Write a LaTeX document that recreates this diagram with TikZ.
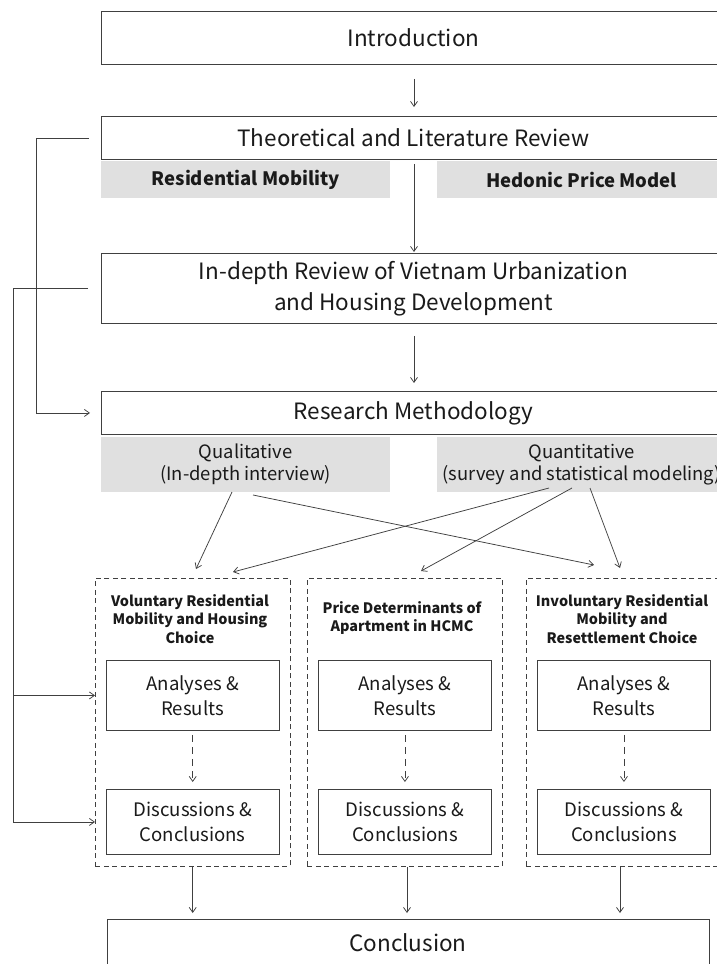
\documentclass[tikz,border=0pt]{standalone}
\usepackage{fontspec}
\setmainfont{Noto Sans CJK KR}
\usetikzlibrary{arrows.meta,calc}
\definecolor{linecol}{HTML}{404040}
\definecolor{txtcol}{HTML}{1A1A1A}
\definecolor{graycol}{HTML}{E0E0E0}
\begin{document}
\begin{tikzpicture}[x=1pt,y=-1pt,
  box/.style={draw=linecol, line width=0.9pt, fill=white, inner sep=0pt,
    align=center, anchor=north west, text=txtcol},
  bigtext/.style={font=\fontsize{22.5}{31}\selectfont},
  midtext/.style={font=\fontsize{18.6}{25}\selectfont},
  graybox/.style={fill=graycol, inner sep=0pt, align=center, anchor=north west,
    text=txtcol, minimum width=289pt},
  group/.style={draw=linecol, line width=0.8pt, dash pattern=on 5pt off 3.5pt,
    inner sep=0pt, anchor=north west},
  grouptitle/.style={font=\bfseries\fontsize{14.4}{18.5}\selectfont, align=center,
    text=txtcol, inner sep=0pt},
  arr/.style={draw=linecol, line width=0.75pt,
    -{Straight Barb[length=5pt,width=7pt]}},
  plain/.style={draw=linecol, line width=0.75pt}]
\clip (0,0) rectangle (717,964);
\fill[white] (0,0) rectangle (717,964);

% main stages
\node[box, bigtext, minimum width=624pt, minimum height=53pt] (intro) at (101,11) {Introduction};
\node[box, bigtext, minimum width=624pt, minimum height=43pt] (theo) at (101,116) {Theoretical and Literature Review};
\node[graybox, font=\bfseries\fontsize{18.5}{22}\selectfont, minimum height=37pt] (resmob) at (101,161) {Residential Mobility};
\node[graybox, font=\bfseries\fontsize{18.5}{22}\selectfont, minimum height=37pt] (hedonic) at (437,161) {Hedonic Price Model};
\node[box, bigtext, minimum width=624pt, minimum height=70pt] (rev) at (101,253) {In-depth Review of Vietnam Urbanization\\and Housing Development};
\node[box, bigtext, minimum width=624pt, minimum height=43pt] (meth) at (101,391) {Research Methodology};
\node[graybox, font=\fontsize{18.4}{22}\selectfont, minimum height=55pt] (qual) at (101,437) {Qualitative\\(In-depth interview)};
\node[graybox, font=\fontsize{18.4}{22}\selectfont, minimum height=55pt] (quant) at (437,437) {Quantitative\\(survey and statistical modeling)};

% study groups
\node[group, minimum width=194.5pt, minimum height=288pt] (grpA) at (95,578) {};
\node[group, minimum width=195pt, minimum height=288pt] (grpB) at (307,578) {};
\node[group, minimum width=195pt, minimum height=288pt] (grpC) at (526,578) {};

\node[grouptitle] (titA) at (190,619) {Voluntary Residential\\Mobility and Housing\\Choice};
\node[grouptitle] (titB) at (402,618) {Price Determinants of\\Apartment in HCMC};
\node[grouptitle] (titC) at (622,619) {Involuntary Residential\\Mobility and\\Resettlement Choice};

\node[box, midtext, minimum width=172.5pt, minimum height=70pt] (anaA) at (106,660) {Analyses \&\\Results};
\node[box, midtext, minimum width=173pt, minimum height=70pt] (anaB) at (318,660) {Analyses \&\\Results};
\node[box, midtext, minimum width=173pt, minimum height=70pt] (anaC) at (537,660) {Analyses \&\\Results};
\node[box, midtext, minimum width=172.5pt, minimum height=65pt] (disA) at (106,789) {Discussions \&\\Conclusions};
\node[box, midtext, minimum width=173pt, minimum height=65pt] (disB) at (318,789) {Discussions \&\\Conclusions};
\node[box, midtext, minimum width=173pt, minimum height=65pt] (disC) at (537,789) {Discussions \&\\Conclusions};

\node[box, minimum width=602pt, minimum height=100pt] (concl) at (107,919) {};
\node[bigtext, text=txtcol, inner sep=0pt] (concltxt) at (408,943) {Conclusion};

% main flow
\draw[arr, shorten <=14pt, shorten >=9pt] (intro.south -| 414,0) -- (theo.north -| 414,0);
\draw[arr, shorten <=4pt, shorten >=1pt] (theo.south -| 414,0) -- (rev.north -| 414,0);
\draw[arr, shorten <=12pt, shorten >=8pt] (rev.south -| 414,0) -- (meth.north -| 414,0);

% feedback links on the left
\draw[arr, shorten <=12pt, shorten >=11pt] (theo.west) -- ++(-65,0) |- (meth.west);
\coordinate (bus) at (13,0);
\draw[arr, shorten <=13pt] (rev.west) -- (rev.west -| bus) |- (grpA.west |- disA.center);
\draw[arr] (bus |- anaA.center) -- (grpA.west |- anaA.center);

% method links into the groups
\coordinate (q1) at (232,492);
\coordinate (q2) at (253,495);
\coordinate (n1) at (549,488);
\coordinate (n2) at (572,488);
\coordinate (n3) at (590,488);
\coordinate (tA1) at (196,569);
\coordinate (tA2) at (233,572);
\coordinate (tB) at (421,571);
\coordinate (tC1) at (594,565);
\coordinate (tC2) at (620,568);
\draw[arr] (q1) -- (tA1);
\draw[arr] (q2) -- (tC1);
\draw[arr] (n1) -- (tA2);
\draw[arr] (n2) -- (tB);
\draw[arr] (n3) -- (tC2);

% inside the groups
\foreach \g in {A,B,C}{
  \draw[arr, dash pattern=on 7pt off 5pt, shorten <=4pt, shorten >=7pt] (ana\g.south) -- (dis\g.north);
}
% groups to conclusion
\draw[arr, shorten >=6pt] (grpA.south -| disA.south) -- (concl.north -| disA.south);
\draw[arr, shorten >=6pt] (grpB.south -| 407,0) -- (concl.north -| 407,0);
\draw[arr, shorten >=6pt] (grpC.south -| 620,0) -- (concl.north -| 620,0);
\end{tikzpicture}
\end{document}
